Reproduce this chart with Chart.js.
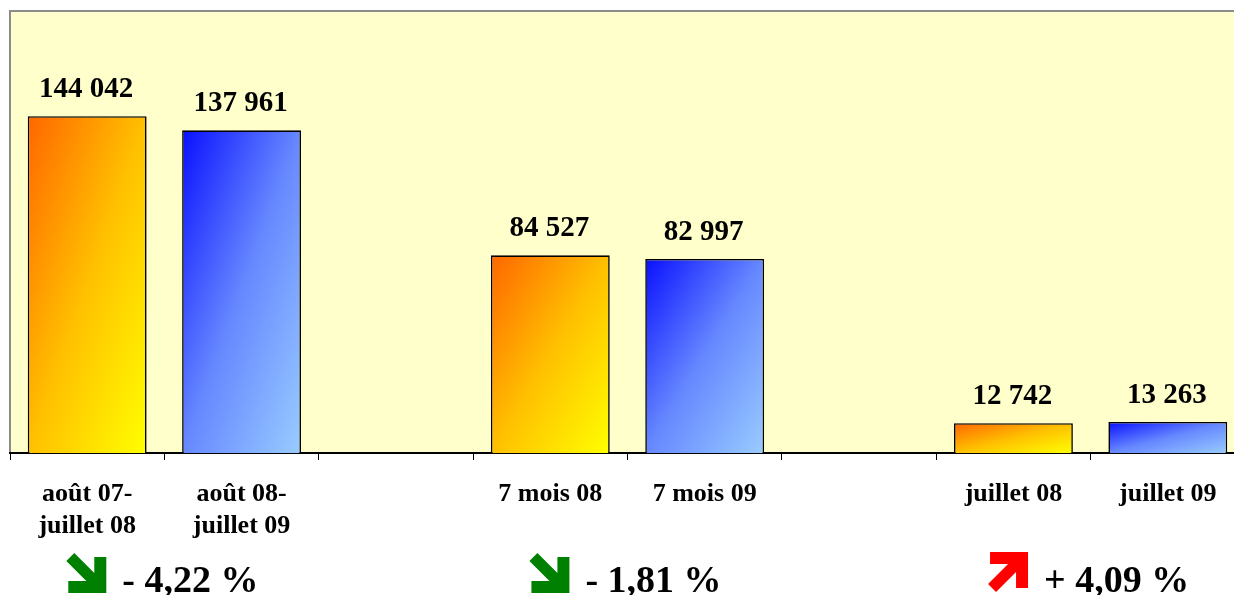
<!DOCTYPE html>
<html>
<head>
<meta charset="utf-8">
<script src="https://cdn.jsdelivr.net/npm/chart.js@4"></script>
<style>
  html, body { margin: 0; padding: 0; background: #ffffff; overflow: hidden; }
  #wrap { width: 1250px; height: 595px; }
</style>
</head>
<body>
<div id="wrap"><canvas id="c" width="1250" height="595"></canvas></div>
<script>
// ---- data ----
const categories = [
  ["août 07-", "juillet 08"],
  ["août 08-", "juillet 09"],
  "",
  "7 mois 08",
  "7 mois 09",
  "",
  "juillet 08",
  "juillet 09"
];
const earlierPeriod = [144042, null, null, 84527, null, null, 12742, null];
const laterPeriod   = [null, 137961, null, null, 82997, null, null, 13263];
// pairs: index of earlier bar, index of later bar
const comparisonPairs = [[0, 1], [3, 4], [6, 7]];

const BAR_PCT = 0.77;
const SERIF = '"Liberation Serif", "Times New Roman", serif';

function diagGradient(ctx, x0, y0, w, h, stops) {
  const t = (2 * w * h) / (h * h + w * w);
  const g = ctx.createLinearGradient(x0, y0, x0 + t * h, y0 + t * w);
  stops.forEach(s => g.addColorStop(s[0], s[1]));
  return g;
}
function barFill(stops) {
  return function (context) {
    const chart = context.chart;
    const area = chart.chartArea;
    if (!area || context.raw == null) return 'rgba(0,0,0,0)';
    const xs = chart.scales.x, ys = chart.scales.y;
    const cw = (xs.right - xs.left) / categories.length;
    const w = cw * BAR_PCT;
    const cx = xs.getPixelForValue(context.dataIndex);
    const top = ys.getPixelForValue(context.raw);
    const bottom = ys.getPixelForValue(0);
    return diagGradient(chart.ctx, cx - w / 2, top, w, Math.max(1, bottom - top), stops);
  };
}
const orangeStops = [[0, '#FF6600'], [0.5, '#FFC000'], [1, '#FFFF00']];
const blueStops = [[0, '#0A10FF'], [0.5, '#6688FF'], [1, '#99CCFF']];

function fmtThousands(v) {
  return String(v).replace(/\B(?=(\d{3})+(?!\d))/g, ' ');
}

const framePlugin = {
  id: 'frame',
  beforeDraw(chart) {
    const { ctx, chartArea: a } = chart;
    ctx.save();
    ctx.fillStyle = '#FFFFCC';
    ctx.fillRect(a.left, a.top, a.right - a.left, a.bottom - a.top);
    ctx.strokeStyle = '#8C8C8C';
    ctx.lineWidth = 2;
    ctx.beginPath();
    ctx.moveTo(a.left, a.bottom);
    ctx.lineTo(a.left, a.top);
    ctx.lineTo(a.right, a.top);
    ctx.stroke();
    ctx.restore();
  }
};

// up-right arrow outline in a unit box (y downward); mirrored for down-right
const arrowShape = [[0.05, 0], [1, 0], [1, 0.9], [0.7, 0.9], [0.7, 0.5], [0.2, 1], [0, 0.8], [0.5, 0.3], [0.05, 0.3]];
function drawArrow(ctx, x, y, s, up, color) {
  ctx.save();
  ctx.fillStyle = color;
  ctx.beginPath();
  arrowShape.forEach((p, i) => {
    const px = x + p[0] * s;
    const py = up ? y + p[1] * s : y + (1 - p[1]) * s;
    if (i === 0) ctx.moveTo(px, py); else ctx.lineTo(px, py);
  });
  ctx.closePath();
  ctx.fill();
  ctx.restore();
}

const labelPlugin = {
  id: 'labels',
  afterDatasetsDraw(chart) {
    const ctx = chart.ctx;
    ctx.save();
    ctx.font = 'bold 29px ' + SERIF;
    ctx.fillStyle = '#000';
    ctx.textAlign = 'center';
    ctx.textBaseline = 'alphabetic';
    chart.data.datasets.forEach((ds, di) => {
      const meta = chart.getDatasetMeta(di);
      meta.data.forEach((el, i) => {
        const v = ds.data[i];
        if (v == null) return;
        ctx.fillText(fmtThousands(v), el.x - 1, el.y - 19);
      });
    });
    ctx.restore();
  },
  afterDraw(chart) {
    const ctx = chart.ctx;
    const xs = chart.scales.x;
    const cw = (xs.right - xs.left) / categories.length;
    ctx.save();
    ctx.font = 'bold 38px ' + SERIF;
    ctx.fillStyle = '#000';
    ctx.textBaseline = 'alphabetic';
    ctx.textAlign = 'left';
    comparisonPairs.forEach(([a, b]) => {
      const va = earlierPeriod[a], vb = laterPeriod[b];
      const pct = (vb - va) / va * 100;
      const up = pct >= 0;
      const txt = (up ? '+ ' : '- ') + Math.abs(pct).toFixed(2).replace('.', ',') + ' %';
      const arrowSize = 40, gap = 16;
      const tw = ctx.measureText(txt).width;
      const total = arrowSize + gap + tw;
      const center = xs.getPixelForValue(a) + cw / 2;
      const left = center - total / 2 - 2;
      drawArrow(ctx, left, up ? 552 : 553, arrowSize, up, up ? '#FF0000' : '#008000');
      ctx.fillText(txt, left + arrowSize + gap, 592);
    });
    ctx.restore();
  }
};

new Chart(document.getElementById('c'), {
  type: 'bar',
  data: {
    labels: categories,
    datasets: [
      {
        label: 'période précédente',
        data: earlierPeriod,
        backgroundColor: barFill(orangeStops),
        borderColor: '#000',
        borderWidth: 1.6,
        barPercentage: BAR_PCT,
        categoryPercentage: 1
      },
      {
        label: 'période actuelle',
        data: laterPeriod,
        backgroundColor: barFill(blueStops),
        borderColor: '#000',
        borderWidth: 1.6,
        barPercentage: BAR_PCT,
        categoryPercentage: 1
      }
    ]
  },
  options: {
    responsive: false,
    devicePixelRatio: 1,
    animation: false,
    grouped: false,
    layout: { padding: { left: 10, top: 11, right: 5, bottom: 0 } },
    plugins: { legend: { display: false }, tooltip: { enabled: false } },
    scales: {
      x: {
        offset: true,
        grid: { offset: true, drawOnChartArea: false, drawTicks: true, tickLength: 7, color: '#000', lineWidth: 1 },
        border: { display: true, color: '#000', width: 2 },
        ticks: {
          color: '#000',
          font: { family: SERIF, size: 26, weight: 'bold', lineHeight: 1.24 },
          padding: 18,
          maxRotation: 0,
          autoSkip: false
        },
        afterFit(scale) { scale.height = 142; }
      },
      y: {
        display: false,
        min: 0,
        max: 189000
      }
    }
  },
  plugins: [framePlugin, labelPlugin]
});
</script>
</body>
</html>
